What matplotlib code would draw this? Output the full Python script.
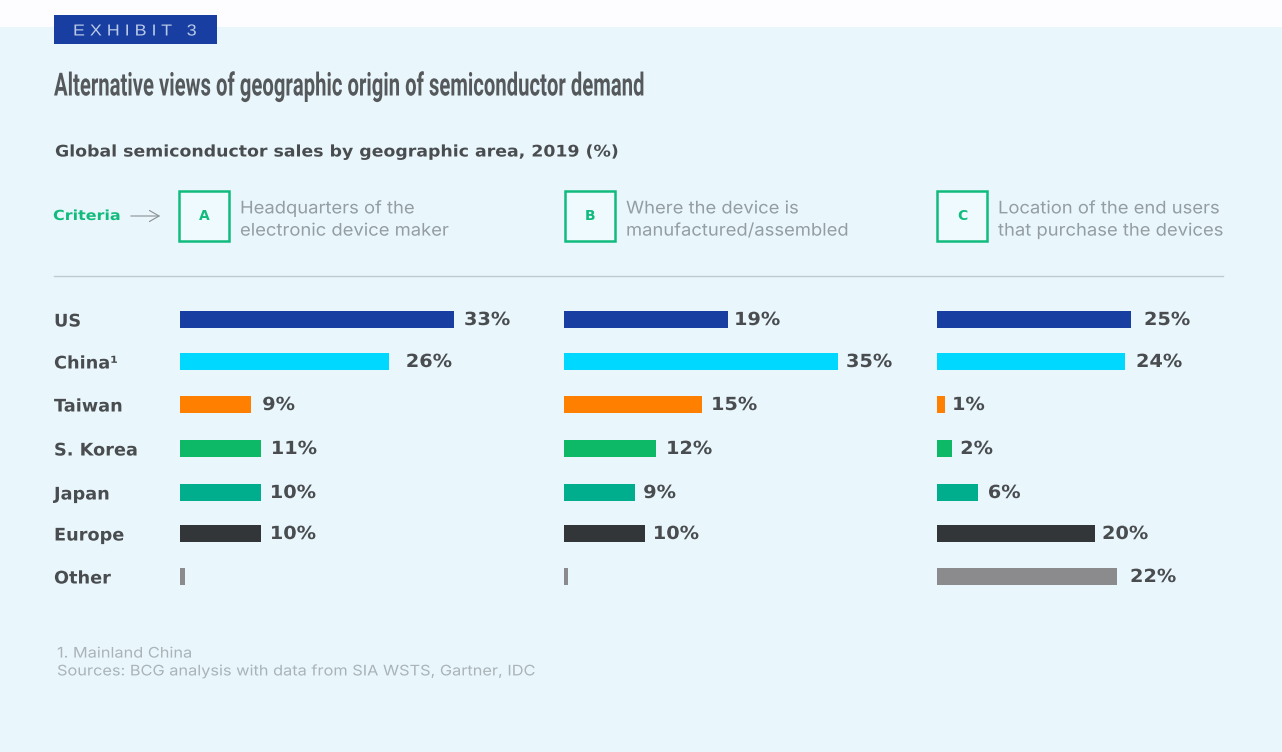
import matplotlib
matplotlib.use("Agg")
import matplotlib.pyplot as plt
from matplotlib.patches import Rectangle
from matplotlib.patheffects import AbstractPathEffect
from matplotlib.transforms import Affine2D

regions = ["US", "China¹", "Taiwan", "S. Korea", "Japan", "Europe", "Other"]
bar_colors = ["#173ea0", "#00d8ff", "#ff7f00", "#0db866", "#00ad8c", "#333638", "#8b8b8d"]

# bar lengths as measured (the source bars are not exactly to scale with their labels)
bars_a = [34.25, 26.1, 8.9, 10.1, 10.1, 10.1, 0.6]
bars_b = [20.5, 34.25, 17.25, 11.5, 8.9, 10.1, 0.5]
bars_c = [24.25, 23.5, 1.0, 1.9, 5.1, 19.75, 22.5]

labels_a = ["33%", "26%", "9%", "11%", "10%", "10%", ""]
labels_b = ["19%", "35%", "15%", "12%", "9%", "10%", ""]
labels_c = ["25%", "24%", "1%", "2%", "6%", "20%", "22%"]

criteria = ["A", "B", "C"]
criteria_text = [
    "Headquarters of the\nelectronic device maker",
    "Where the device is\nmanufactured/assembled",
    "Location of the end users\nthat purchase the devices",
]

title = "Alternative views of geographic origin of semiconductor demand"
subtitle = "Global semiconductor sales by geographic area, 2019 (%)"
footnote = "1. Mainland China\nSources: BCG analysis with data from SIA WSTS, Gartner, IDC"

W, H = 1282, 752
BG = "#e9f7fd"
GREEN = "#10bb7c"
DARK = "#4a4d50"
GREY = "#939da2"
PX_PER_PCT = 8.0

row_y = [319, 361, 404, 448, 492, 533, 576]
label_gaps = [
    [10, 17, 11, 10, 9, 9, 0],
    [6, 8, 9, 10, 8, 8, 0],
    [13, 11, 7, 8, 10, 7, 13],
]
panel_x = [180, 564, 937]
box_x = [179, 565, 937]


class Stretch(AbstractPathEffect):
    # widen or narrow a text horizontally, none of the installed fonts has the right width
    def __init__(self, sx):
        super().__init__()
        self.sx = sx

    def draw_path(self, renderer, gc, tpath, affine, rgbFace=None):
        renderer.draw_path(gc, tpath, Affine2D().scale(self.sx, 1) + affine, rgbFace)


fig = plt.figure(figsize=(W / 100, H / 100), dpi=100, facecolor=BG)

# page layer in pixel coordinates
page = fig.add_axes([0, 0, 1, 1])
page.set_xlim(0, W)
page.set_ylim(H, 0)
page.axis("off")

page.add_patch(Rectangle((0, 0), W, 27, fc="#fdfcfe", ec="none"))
page.add_patch(Rectangle((54, 15), 163, 29, fc="#173ea0", ec="none"))
page.text(73, 31, "E X H I B I T   3", color="#b9c9e8", fontsize=11.5, va="center",
          family=["Liberation Sans", "DejaVu Sans"], path_effects=[Stretch(1.12)])
page.text(54, 86.5, title, color="#55595c", fontsize=23, fontweight="bold", va="center",
          family=["Roboto"], path_effects=[Stretch(0.635)])
page.text(55, 152, subtitle, color=DARK, fontsize=11.5, fontweight="bold", va="center",
          family=["DejaVu Sans"], path_effects=[Stretch(1.085)])

page.text(53, 216, "Criteria", color=GREEN, fontsize=10, fontweight="bold", va="center",
          family=["DejaVu Sans"], path_effects=[Stretch(1.15)])
page.annotate("", xy=(163, 216), xytext=(128, 216),
              arrowprops=dict(arrowstyle="->,head_length=0.7,head_width=0.4", color="#8a8f92", lw=0.8))

for x, letter, text in zip(box_x, criteria, criteria_text):
    page.add_patch(Rectangle((x, 191), 50, 49.5, fc="#eefafd", ec=GREEN, lw=1.8))
    page.text(x + 25, 215.5, letter, color=GREEN, fontsize=10, fontweight="bold",
              ha="center", va="center", family=["DejaVu Sans"])
    page.text(x + 61, 220, text, color=GREY, fontsize=12.5, va="center", linespacing=1.4,
              family=["Inter", "DejaVu Sans"], path_effects=[Stretch(1.06)])

page.plot([54, 1223], [275.5, 275.5], color="#bfcbd0", lw=1)

for y, region in zip(row_y, regions):
    page.text(54, y + 2.5, region, color=DARK, fontsize=12.5, fontweight="bold", va="center",
              family=["DejaVu Sans"], path_effects=[Stretch(1.02)])

page.text(57, 662.5, footnote, color="#a9b3b8", fontsize=10.5, va="center", linespacing=1.35,
          family=["Inter", "DejaVu Sans"], path_effects=[Stretch(1.12)])

# one bar panel per criterion, x axis in percent
panels = zip(panel_x, [bars_a, bars_b, bars_c], [labels_a, labels_b, labels_c], label_gaps)
for left, bars, labels, gaps in panels:
    ax = fig.add_axes([left / W, 0, 40 * PX_PER_PCT / W, 1])
    ax.set_xlim(0, 40)
    ax.set_ylim(H, 0)
    ax.axis("off")
    ax.barh(row_y, bars, height=17, color=bar_colors)
    for y, value, label, gap in zip(row_y, bars, labels, gaps):
        if label:
            ax.annotate(label, (value, y + 1), xytext=(gap * 0.72, 0), textcoords="offset points",
                        color=DARK, fontsize=13, fontweight="bold", va="center",
                        family=["DejaVu Sans"], annotation_clip=False,
                        path_effects=[Stretch(1.07)])

fig.savefig("out.png", dpi=100, facecolor=BG)
